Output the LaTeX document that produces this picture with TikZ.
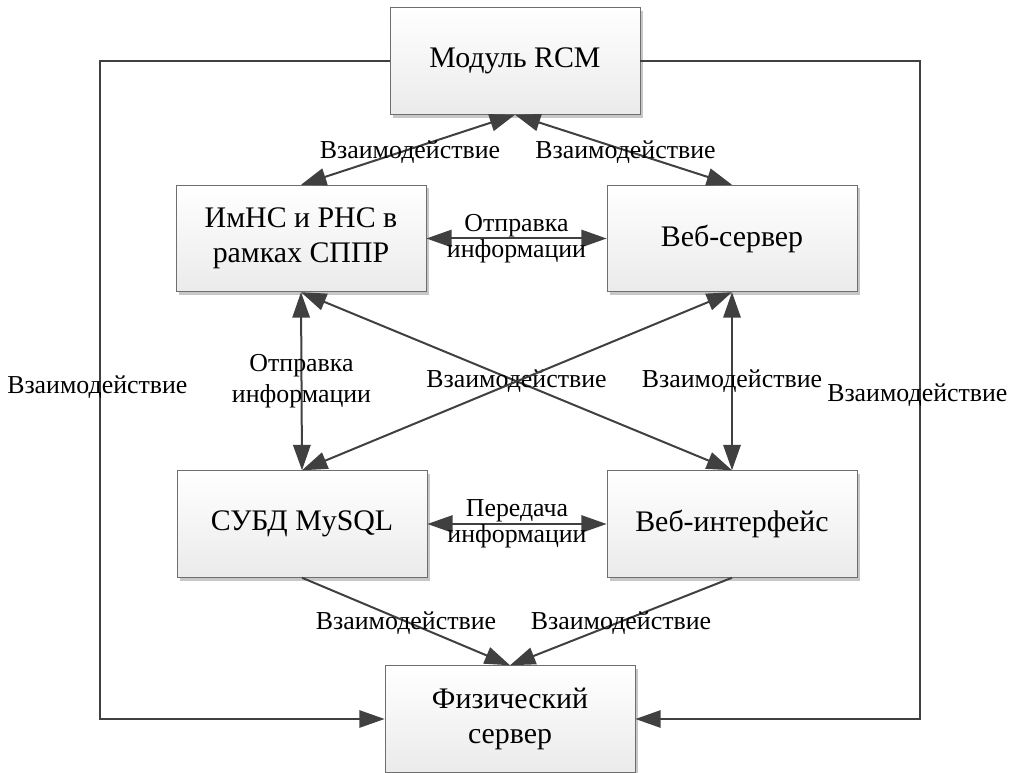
\documentclass[tikz,border=0pt]{standalone}
\usepackage{fontspec}
\setmainfont{Liberation Serif}
\newfontfamily\diagfont{Liberation Serif}
\usepackage{tikz}
\usetikzlibrary{arrows.meta}
\usetikzlibrary{shadows}
\definecolor{linegray}{RGB}{64, 64, 64}
\definecolor{framegray}{RGB}{110, 110, 110}
\tikzset{
    arrow/.style={->, >={Triangle[length=19pt, width=13pt]}, line width=1.5pt, color=linegray},
    dblarrow/.style={arrow, <->},
    box/.style = {
      rectangle,
      draw=framegray,
      line width=0.6pt,
      top color=white,
      bottom color=gray!16,
      minimum width=187.5pt,
      minimum height=80pt,
      align=center,
      font=\diagfont\fontsize{22.4}{26}\selectfont,
      drop shadow={shadow xshift=2.5pt, shadow yshift=-2.5pt, fill=black!22, opacity=1}
    },
    lbl/.style = {
      inner sep=1pt,
      align=center,
      text=black,
      font=\diagfont\fontsize{19.4}{19.5}\selectfont
    },
}
\begin{document}
\begin{tikzpicture}[x=0.75pt, y=-0.75pt]
      \useasboundingbox (0,0) rectangle (1014,773);

      \node [box] (rcm) at (515,61) {Модуль RCM};
      \node [box] (imns) at (301,238.5) {ИмНС и РНС в\\рамках СППР};
      \node [box] (websrv) at (732,238.5) {Веб-сервер};
      \node [box] (dbms) at (302,524) {СУБД MySQL};
      \node [box] (webui) at (732,524) {Веб-интерфейс};
      \node [box] (phys) at (510,719) {Физический\\сервер};

      \coordinate (ltop) at (100,61);
      \coordinate (lbot) at (100,719);
      \coordinate (rtop) at (920,61);
      \coordinate (rbot) at (920,719);

      \path [dblarrow] (rcm.south) edge node [lbl, xshift=1.5pt, yshift=-1.5pt] {Взаимодействие} (imns.north)
            (rcm.south) edge node [lbl, xshift=1.5pt, yshift=-1.5pt] {Взаимодействие} (websrv.north)
            (imns.east) edge node [lbl] {Отправка\\информации} (websrv.west)
            (imns.south) edge node [lbl, font=\diagfont\fontsize{19.4}{23}\selectfont] {Отправка\\информации} (dbms.north)
            (imns.south) edge node [lbl] {Взаимодействие} (webui.north)
            (websrv.south) edge (dbms.north)
            (websrv.south) edge node [lbl] {Взаимодействие} (webui.north)
            (dbms.east) edge node [lbl] {Передача\\информации} (webui.west);

      \path [arrow] (dbms.south) edge node [lbl, yshift=-1.5pt] {Взаимодействие} (phys.north)
            (webui.south) edge node [lbl, yshift=-1.5pt] {Взаимодействие} (phys.north);

      \draw [arrow] (rcm.west) -- (ltop) -- node [lbl, xshift=-2pt, yshift=2pt] {Взаимодействие} (lbot) -- (phys.west);
      \draw [arrow] (rcm.east) -- (rtop) -- node [lbl, xshift=-2pt, yshift=-4pt] {Взаимодействие} (rbot) -- (phys.east);
\end{tikzpicture}
\end{document}
